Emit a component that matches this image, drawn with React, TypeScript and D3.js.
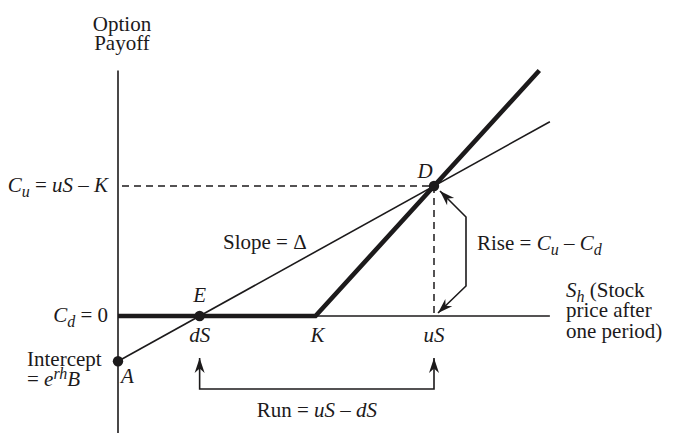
import { useEffect, useRef } from 'react';
import * as d3 from 'd3';

// stock prices after one period (dS, K, uS) in arbitrary units
const priceLabels = ['dS', 'K', 'uS'];
const priceValues = [31, 75, 120];
const strike = 75;
const upPayoff = 45; // Cu = uS - K
const downPayoff = 0; // Cd
const callPayoffPoints: [number, number][] = [[0, 0], [75, 0], [160, 85]];
const xAxisExtent = [0, 164];
const yAxisExtent = [-41, 85];
const replicatingEnd = 164;

const INK = '#1c1a1b';
const FONT = '"Liberation Serif", "DejaVu Serif", serif';
const FS = 21;
const SUB = 16;

type Txt = d3.Selection<SVGTextElement, unknown, null, undefined>;

export default function App() {
  const svgRef = useRef<SVGSVGElement>(null);

  useEffect(() => {
    if (!svgRef.current) return;
    const svg = d3.select(svgRef.current);
    svg.selectAll('*').remove();

    const dS = priceValues[0];
    const uS = priceValues[2];

    const x = d3.scaleLinear().domain([0, uS]).range([118, 434]);
    const y = d3.scaleLinear().domain([0, upPayoff]).range([316, 186]);

    // replicating portfolio: slope delta, intercept e^{rh}B
    const delta = (upPayoff - downPayoff) / (uS - dS);
    const intercept = downPayoff - delta * dS;
    const repl = (s: number) => intercept + delta * s;

    const defs = svg.append('defs');
    defs.append('marker')
      .attr('id', 'head')
      .attr('viewBox', '-16 -6 18 12')
      .attr('refX', 0)
      .attr('refY', 0)
      .attr('markerWidth', 18)
      .attr('markerHeight', 12)
      .attr('markerUnits', 'userSpaceOnUse')
      .attr('orient', 'auto-start-reverse')
      .append('path')
      .attr('d', 'M0,0 L-15,-5 L-10.5,0 L-15,5 Z')
      .attr('fill', INK);

    const line = d3.line<[number, number]>().x(d => d[0]).y(d => d[1]);

    // axes
    svg.append('line')
      .attr('x1', x(0)).attr('x2', x(0))
      .attr('y1', y(yAxisExtent[1])).attr('y2', y(yAxisExtent[0]))
      .attr('stroke', INK).attr('stroke-width', 1.6);
    svg.append('line')
      .attr('x1', x(xAxisExtent[0])).attr('x2', x(xAxisExtent[1]))
      .attr('y1', y(0)).attr('y2', y(0))
      .attr('stroke', INK).attr('stroke-width', 1.6);

    // dashed guides to D
    svg.append('line')
      .attr('x1', x(0) + 4).attr('x2', x(uS))
      .attr('y1', y(upPayoff)).attr('y2', y(upPayoff))
      .attr('stroke', INK).attr('stroke-width', 1.5)
      .attr('stroke-dasharray', '7,5');
    svg.append('line')
      .attr('x1', x(uS)).attr('x2', x(uS))
      .attr('y1', y(upPayoff)).attr('y2', y(0))
      .attr('stroke', INK).attr('stroke-width', 1.5)
      .attr('stroke-dasharray', '7,5');

    // replicating line
    svg.append('line')
      .attr('x1', x(0)).attr('y1', y(repl(0)))
      .attr('x2', x(replicatingEnd)).attr('y2', y(repl(replicatingEnd)))
      .attr('stroke', INK).attr('stroke-width', 1.6);

    // call payoff
    svg.append('path')
      .attr('d', line(callPayoffPoints.map(p => [x(p[0]), y(p[1])] as [number, number])))
      .attr('fill', 'none')
      .attr('stroke', INK)
      .attr('stroke-width', 4.6)
      .attr('stroke-linejoin', 'miter');

    // points A, E, D
    [[0, repl(0)], [dS, downPayoff], [uS, upPayoff]].forEach(p => {
      svg.append('circle')
        .attr('cx', x(p[0])).attr('cy', y(p[1]))
        .attr('r', 5.2).attr('fill', INK);
    });

    // rise arrow
    const riseX = x(uS) + 32;
    svg.append('path')
      .attr('d', line([
        [x(uS) + 6, y(upPayoff) + 5],
        [riseX, y(upPayoff) + 31],
        [riseX, y(0) - 30],
        [x(uS) + 4, y(0) - 3],
      ]))
      .attr('fill', 'none').attr('stroke', INK).attr('stroke-width', 1.6)
      .attr('marker-start', 'url(#head)')
      .attr('marker-end', 'url(#head)');

    // run bracket
    const runY = y(0) + 73;
    svg.append('path')
      .attr('d', line([
        [x(dS), y(0) + 42],
        [x(dS), runY],
        [x(uS), runY],
        [x(uS), y(0) + 42],
      ]))
      .attr('fill', 'none').attr('stroke', INK).attr('stroke-width', 1.6)
      .attr('marker-start', 'url(#head)')
      .attr('marker-end', 'url(#head)');

    const txt = (tx: number, ty: number, anchor = 'start') =>
      svg.append('text')
        .attr('x', tx).attr('y', ty)
        .attr('text-anchor', anchor)
        .attr('font-family', FONT)
        .attr('font-size', FS)
        .attr('fill', INK)
        .style('white-space', 'pre');

    // italic symbol with italic subscript
    const sub = (t: Txt, main: string, s: string) => {
      t.append('tspan').attr('font-style', 'italic').text(main);
      t.append('tspan').attr('font-style', 'italic').attr('font-size', SUB).attr('dy', 5).text(s);
    };
    // text returning to the baseline after a subscript
    const back = (t: Txt, s: string, italic = false) =>
      t.append('tspan').attr('dy', -5).attr('font-style', italic ? 'italic' : null).text(s);

    // y axis title
    txt(x(0) + 4, 31, 'middle').text('Option');
    txt(x(0) + 4, 50, 'middle').text('Payoff');

    // Cu label
    const cu = txt(x(0) - 10, y(upPayoff) + 6, 'end');
    sub(cu, 'C', 'u');
    back(cu, ' = ');
    cu.append('tspan').attr('font-style', 'italic').text('uS');
    cu.append('tspan').text(' \u2013 ');
    cu.append('tspan').attr('font-style', 'italic').text('K');

    // Cd label
    const cd = txt(x(0) - 10, y(downPayoff) + 6, 'end');
    sub(cd, 'C', 'd');
    back(cd, ' = 0');

    // intercept
    txt(27, y(repl(0)) + 5).text('Intercept');
    const eb = txt(27, y(repl(0)) + 25);
    eb.append('tspan').text('= ');
    eb.append('tspan').attr('font-style', 'italic').text('e');
    eb.append('tspan').attr('font-style', 'italic').attr('font-size', SUB).attr('dy', -7).text('rh');
    eb.append('tspan').attr('font-style', 'italic').attr('dy', 7).text('B');

    // point letters
    txt(x(0) + 3, y(repl(0)) + 22).attr('font-style', 'italic').text('A');
    txt(x(dS), y(0) - 14, 'middle').attr('font-style', 'italic').text('E');
    txt(x(uS) - 9, y(upPayoff) - 8, 'middle').attr('font-style', 'italic').text('D');

    // price labels on x axis
    priceLabels.forEach((lab, i) => {
      txt(x(priceValues[i]) + (priceValues[i] === strike ? 2 : 0), y(0) + 26, 'middle')
        .attr('font-style', 'italic').text(lab);
    });

    // slope
    txt(223, 249).text('Slope = \u0394');

    // rise
    const rs = txt(riseX + 11, 250);
    rs.append('tspan').text('Rise = ');
    sub(rs, 'C', 'u');
    back(rs, ' \u2013 ');
    sub(rs, 'C', 'd');

    // x axis title
    const sh = txt(566, 297);
    sub(sh, 'S', 'h');
    back(sh, ' (Stock');
    txt(566, 317).text('price after');
    txt(566, 338).text('one period)');

    // run
    const rn = txt((x(dS) + x(uS)) / 2, runY + 28, 'middle');
    rn.append('tspan').text('Run = ');
    rn.append('tspan').attr('font-style', 'italic').text('uS');
    rn.append('tspan').text(' \u2013 ');
    rn.append('tspan').attr('font-style', 'italic').text('dS');
  }, []);

  return (
    <svg
      ref={svgRef}
      width={677}
      height={433}
      style={{ position: 'absolute', left: 0, top: 0, background: '#fff' }}
    />
  );
}
